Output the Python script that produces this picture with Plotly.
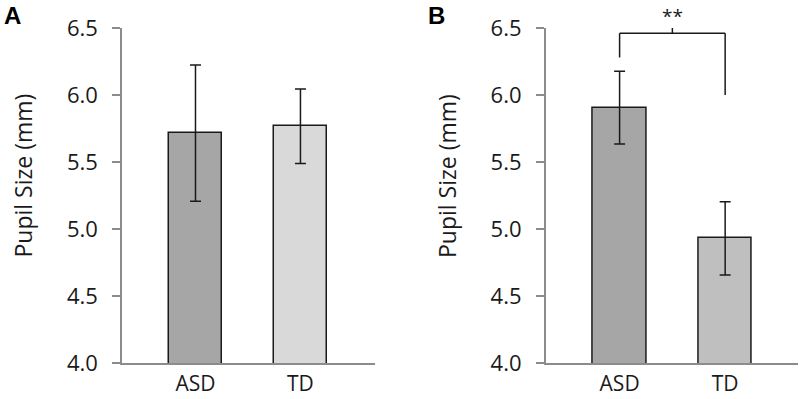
import plotly.graph_objects as go

categories = ["ASD", "TD"]
# Panel A
a_means = [5.716, 5.769]
a_err_hi = [6.224, 6.045]
a_err_lo = [5.207, 5.488]
a_colors = ["#a6a6a6", "#d9d9d9"]
# Panel B
b_means = [5.905, 4.930]
b_err_hi = [6.177, 5.204]
b_err_lo = [5.634, 4.657]
b_colors = ["#a6a6a6", "#bfbfbf"]
y_ticks = [4.0, 4.5, 5.0, 5.5, 6.0, 6.5]

FONT = "Open Sans"
W, H = 800, 399
xpos = [0, 1]

fig = go.Figure()

def add_panel(means, hi, lo, colors, xa, ya, width):
    fig.add_trace(go.Bar(
        x=xpos, y=means, width=width, xaxis=xa, yaxis=ya,
        marker=dict(color=colors, line=dict(color="#1a1a1a", width=1.5)),
        error_y=dict(type="data", symmetric=False,
                     array=[h - m for h, m in zip(hi, means)],
                     arrayminus=[m - l for m, l in zip(means, lo)],
                     color="#1a1a1a", thickness=1.5, width=5.5),
        showlegend=False, hoverinfo="skip"))

add_panel(a_means, a_err_hi, a_err_lo, a_colors, "x", "y", 0.505)
add_panel(b_means, b_err_hi, b_err_lo, b_colors, "x2", "y2", 0.505)

ydom = [(H - 363) / H, (H - 28) / H]
axcol = "#8c8c8c"
common_y = dict(range=[4.0, 6.5], tickvals=y_ticks, ticktext=[f"{v:.1f}" for v in y_ticks],
                showline=True, linecolor=axcol, linewidth=1.5, ticks="outside", ticklen=8,
                tickcolor=axcol, tickwidth=1.5, showgrid=False, zeroline=False,
                tickfont=dict(family=FONT, size=22, color="#1a1a1a"), domain=ydom,
                ticklabelstandoff=10, automargin=False)
common_x = dict(tickvals=xpos, ticktext=categories, showline=True, linecolor=axcol, linewidth=1.5,
                ticks="", showgrid=False, zeroline=False, automargin=False,
                tickfont=dict(family=FONT, size=21, color="#1a1a1a"), ticklabelstandoff=1)

fig.update_layout(
    width=W, height=H, margin=dict(l=0, r=0, t=0, b=0, autoexpand=False),
    plot_bgcolor="white", paper_bgcolor="white", bargap=0,
    xaxis=dict(domain=[122 / W, 375 / W], range=[-0.70, 1.71], anchor="y", **common_x),
    yaxis=dict(anchor="x", **common_y),
    xaxis2=dict(domain=[545.7 / W, 798 / W], range=[-0.70, 1.69], anchor="y2", **common_x),
    yaxis2=dict(anchor="x2", **common_y),
)

# significance bracket in panel B
bracket_y = 6.46
lw = dict(color="#1a1a1a", width=1.5)
fig.add_shape(type="line", xref="x2", yref="y2", x0=0, x1=1, y0=bracket_y, y1=bracket_y, line=lw)
fig.add_shape(type="line", xref="x2", yref="y2", x0=0, x1=0, y0=6.28, y1=bracket_y, line=lw)
fig.add_shape(type="line", xref="x2", yref="y2", x0=1, x1=1, y0=6.0, y1=bracket_y, line=lw)
fig.add_shape(type="line", xref="x2", yref="y2", x0=0.5, x1=0.5, y0=bracket_y, y1=6.5, line=lw)
fig.add_annotation(xref="x2", yref="paper", x=0.5, y=(H - 16.5) / H, text="**", showarrow=False,
                   yanchor="middle", font=dict(family=FONT, size=19, color="#1a1a1a"))

# y-axis titles
for xc in [22.5, 447]:
    fig.add_annotation(xref="paper", yref="paper", x=xc / W, y=(H - 176) / H,
                       text="Pupil Size (mm)", textangle=-90, showarrow=False,
                       xanchor="center", yanchor="middle",
                       font=dict(family=FONT, size=23, color="#1a1a1a"))

# panel letters
for xc, t in [(2, "A"), (425.5, "B")]:
    fig.add_annotation(xref="paper", yref="paper", x=xc / W, y=1.0, text=f"<b>{t}</b>",
                       showarrow=False, xanchor="left", yanchor="top",
                       font=dict(family="Liberation Sans", size=24, color="black"))

fig.write_html("out.html")
